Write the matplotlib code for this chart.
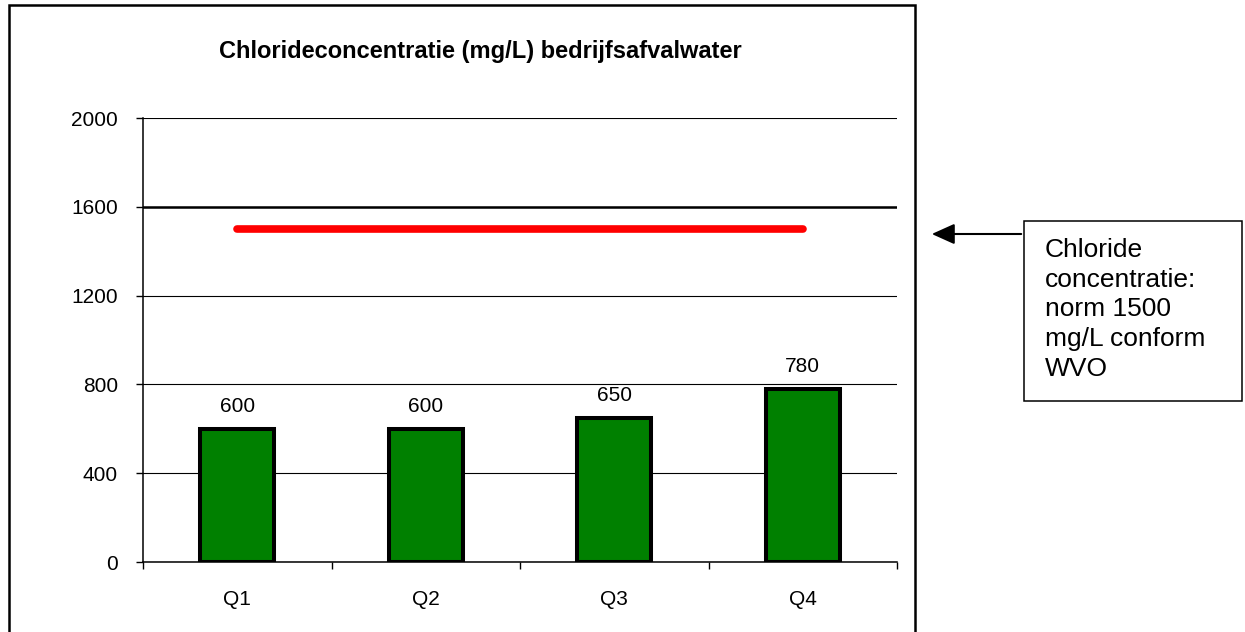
import matplotlib
matplotlib.use("Agg")
import matplotlib.pyplot as plt
from matplotlib.patches import Rectangle, FancyArrowPatch

# data
quarters = ["Q1", "Q2", "Q3", "Q4"]
chloride = [600, 600, 650, 780]
norm_value = 1500
y_ticks = [0, 400, 800, 1200, 1600, 2000]
title = "Chlorideconcentratie (mg/L) bedrijfsafvalwater"
note = "Chloride\nconcentratie:\nnorm 1500\nmg/L conform\nWVO"

plt.rcParams['font.family'] = ['Liberation Sans', 'DejaVu Sans']

W, H = 1245, 632
fig = plt.figure(figsize=(W / 100, H / 100), dpi=100)


# pixel -> figure fraction helpers
def fx(px):
    return px / W


def fy(py):
    return 1 - py / H


ax = fig.add_axes([fx(143), fy(562), fx(897) - fx(143), fy(118) - fy(562)])

x = list(range(len(quarters)))
ax.bar(x, chloride, width=0.39, color='#008000', edgecolor='black', linewidth=2.9, zorder=3)
for xi, v in zip(x, chloride):
    ax.annotate(str(v), (xi, v), xytext=(0, 12), textcoords='offset points',
                ha='center', va='baseline', fontsize=15)

# norm line
ax.plot([x[0], x[-1]], [norm_value, norm_value], color='red', lw=5.5,
        solid_capstyle='round', zorder=4)

ax.set_xlim(-0.5, len(quarters) - 0.5)
ax.set_ylim(0, 2000)
ax.set_yticks(y_ticks)
ax.yaxis.grid(True, color='black', lw=0.8)
ax.axhline(1600, color='black', lw=1.8, zorder=2)
ax.set_axisbelow(True)

ax.set_xticks([i - 0.5 for i in range(len(quarters) + 1)])
ax.set_xticklabels([])
ax.set_xticks(x, minor=True)
ax.set_xticklabels(quarters, minor=True)
ax.tick_params(axis='x', which='major', direction='out', length=5, width=1)
ax.tick_params(axis='x', which='minor', length=0, pad=20, labelsize=15)
ax.tick_params(axis='y', direction='out', length=5, width=1, pad=13, labelsize=15)

for s in ['top', 'right']:
    ax.spines[s].set_visible(False)
ax.spines['left'].set_linewidth(1.1)
ax.spines['bottom'].set_linewidth(1.1)

fig.text(fx(480), fy(57.7), title, ha='center', va='baseline', fontsize=17, fontweight='bold')

# outer chart frame (bottom edge runs off the image)
frame = Rectangle((fx(9), fy(660)), fx(915) - fx(9), fy(5) - fy(660), transform=fig.transFigure,
                  fill=False, edgecolor='black', lw=1.8, clip_on=False)
fig.add_artist(frame)

# note box with arrow
box = Rectangle((fx(1024), fy(401)), fx(1242) - fx(1024), fy(221) - fy(401), transform=fig.transFigure,
                fill=False, edgecolor='black', lw=1.1)
fig.add_artist(box)
fig.text(fx(1045), fy(238), note, ha='left', va='top', fontsize=19, linespacing=1.3)

arrow = FancyArrowPatch((fx(1024), fy(234)), (fx(929), fy(234)), transform=fig.transFigure,
                        arrowstyle='-|>,head_length=1.0,head_width=0.45', mutation_scale=14,
                        color='black', lw=1.5)
fig.add_artist(arrow)

fig.savefig("out.png", dpi=100)
